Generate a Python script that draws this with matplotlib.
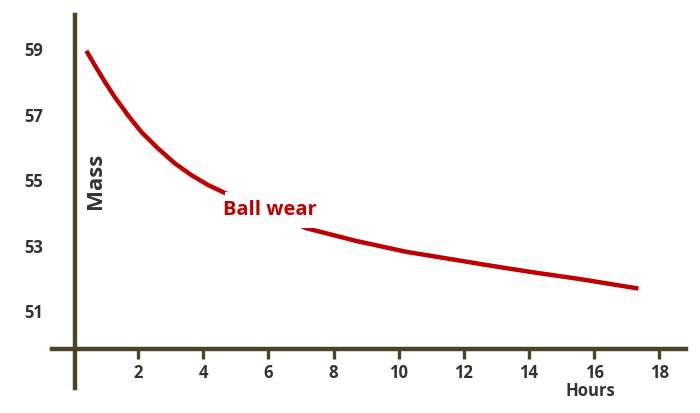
import matplotlib.pyplot as plt
from matplotlib.patches import Rectangle

plt.rcParams['font.family'] = ['Open Sans', 'DejaVu Sans']

# Data
hours = [0.41, 0.67, 0.98, 1.28, 1.69, 2.10, 2.61, 3.13, 3.64, 4.15, 4.66,
         5.5, 6.3, 7.17, 8.71, 10.24, 11.78, 12.75, 14.03, 15.56, 17.36]
mass = [58.95, 58.51, 58.00, 57.54, 56.98, 56.47, 55.97, 55.51, 55.15, 54.85,
        54.61, 54.25, 53.9, 53.53, 53.14, 52.81, 52.56, 52.40, 52.20, 51.98,
        51.69]
x_ticks = [2, 4, 6, 8, 10, 12, 14, 16, 18]
y_ticks = [51, 53, 55, 57, 59]

axis_color = '#4a4428'
text_color = '#333333'
red = '#c00000'

fig = plt.figure(figsize=(7, 4.13), dpi=100)
ax = fig.add_axes([0, 0, 1, 1])
ax.set_xlim(-2.24, 19.25)
ax.set_ylim(47.89, 60.50)

# The wear curve
ax.plot(hours, mass, color=red, lw=3.2, solid_capstyle='butt',
        solid_joinstyle='round', zorder=2)

# Axes drawn as crossing lines
for side in ['top', 'right']:
    ax.spines[side].set_visible(False)
ax.spines['left'].set_position(('data', 0.05))
ax.spines['bottom'].set_position(('data', 49.84))
ax.spines['left'].set_bounds(48.65, 60.04)
ax.spines['bottom'].set_bounds(-0.65, 18.83)
for side in ['left', 'bottom']:
    ax.spines[side].set_color(axis_color)
    ax.spines[side].set_linewidth(3.2)

ax.set_xticks(x_ticks)
ax.set_yticks(y_ticks)
ax.tick_params(axis='x', direction='out', length=7.5, width=2.4,
               color=axis_color, pad=3, labelsize=12, labelcolor=text_color)
ax.tick_params(axis='y', length=0, pad=23, labelsize=12, labelcolor=text_color)
for lab in ax.get_xticklabels() + ax.get_yticklabels():
    lab.set_fontweight('bold')

# Labels
ax.text(0.68, 54.97, 'Mass', rotation=90, ha='center', va='center',
        fontsize=16, fontweight='bold', color=text_color)
ax.text(15.87, 48.56, 'Hours', ha='center', va='center',
        fontsize=12, fontweight='bold', color=text_color)
label = ax.text(6.04, 54.08, 'Ball wear', ha='center', va='center',
                fontsize=14.5, fontweight='bold', color=red, zorder=4)

# White box behind the curve label, taller than wide (cuts the line)
fig.canvas.draw()
bb = label.get_window_extent()
inv = ax.transAxes.inverted()
x0, y0 = inv.transform((bb.x0 + 2, bb.y0 - 8))
x1, y1 = inv.transform((bb.x1 - 2, bb.y1 + 8))
ax.add_patch(Rectangle((x0, y0), x1 - x0, y1 - y0, transform=ax.transAxes,
                       facecolor='white', edgecolor='none', zorder=3))

fig.savefig('out.png', dpi=100)
